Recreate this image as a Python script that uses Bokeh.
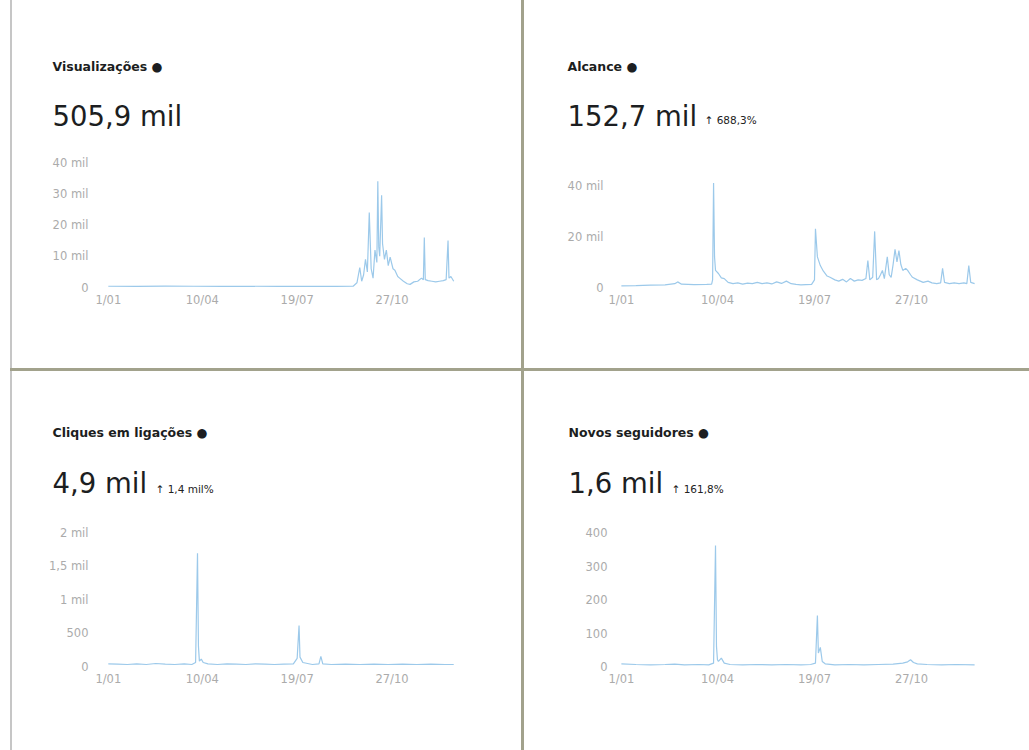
from bokeh.plotting import figure
from bokeh.models import Label, FixedTicker, Range1d, Div, Spacer
from bokeh.layouts import row, column
from bokeh.embed import file_html
from bokeh.resources import INLINE

# ---------------- data ----------------
x_tick_days = [0, 99, 199, 299]
x_tick_labels = ["1/01", "10/04", "19/07", "27/10"]

titles = ["Visualizações ●", "Alcance ●", "Cliques em ligações ●", "Novos seguidores ●"]
totals = ["505,9 mil", "152,7 mil", "4,9 mil", "1,6 mil"]
changes = ["", "↑ 688,3%", "↑ 1,4 mil%", "↑ 161,8%"]

views_days = [0, 30, 60, 90, 120, 150, 180, 210, 240, 258, 262, 265, 267, 269, 271, 273, 275, 277,
              279, 281, 283, 284, 285, 286, 288, 289, 291, 293, 295, 297, 300, 302, 305, 307, 311,
              315, 318, 322, 326, 330, 332, 333, 334, 337, 341, 345, 349, 353, 356, 358, 359, 361, 364]
views_vals = [400, 350, 450, 400, 350, 400, 350, 400, 350, 400, 1500, 6400, 2000, 4000, 9000, 5000,
              24000, 6000, 3000, 12000, 8000, 34000, 13000, 10000, 29500, 14000, 9000, 12000, 7000,
              9700, 6000, 5500, 3500, 3000, 2000, 1200, 1000, 1800, 2000, 3000, 2500, 16000, 2500,
              2200, 2000, 1800, 2000, 2200, 2500, 15000, 3000, 3500, 2000]
views_ticks = [0, 10000, 20000, 30000, 40000]
views_tick_labels = ["0", "10 mil", "20 mil", "30 mil", "40 mil"]

reach_days = [0, 15, 30, 45, 55, 58, 62, 75, 88, 93, 94, 95, 96, 97, 100, 103, 106, 110, 115, 120,
              125, 130, 135, 140, 145, 150, 155, 160, 165, 170, 175, 180, 185, 190, 196, 199, 200,
              202, 205, 208, 212, 215, 220, 224, 228, 232, 236, 240, 244, 248, 252, 254, 256, 259,
              261, 263, 265, 267, 269, 271, 274, 276, 278, 280, 282, 284, 286, 288, 290, 293, 295,
              298, 300, 305, 311, 316, 320, 325, 329, 331, 333, 338, 343, 348, 353, 356, 358, 360, 364]
reach_vals = [600, 700, 900, 1000, 1500, 2200, 1300, 1100, 1200, 1300, 3000, 41000, 12000, 6700,
              5500, 3800, 3500, 2000, 1500, 1800, 1300, 1700, 1500, 2000, 1500, 1800, 1400, 2200,
              1600, 2500, 1500, 1200, 1000, 1100, 1200, 3000, 23000, 12000, 8600, 6500, 4500, 4000,
              3000, 2500, 3200, 2200, 3500, 2500, 3000, 2800, 3500, 10600, 3000, 4000, 22000, 3000,
              3500, 5000, 6700, 3500, 12000, 5000, 4000, 9000, 15000, 10000, 14500, 9000, 6700,
              7500, 6700, 5000, 4000, 3000, 2000, 2500, 1800, 1500, 1800, 7500, 2000, 1500, 1800,
              1500, 1800, 1500, 8600, 2000, 1500]
reach_ticks = [0, 20000, 40000]
reach_tick_labels = ["0", "20 mil", "40 mil"]

clicks_days = [0, 10, 20, 30, 40, 50, 60, 70, 80, 88, 92, 94, 95, 96, 98, 100, 105, 115, 125, 135,
               145, 155, 165, 175, 185, 195, 199, 201, 202, 205, 210, 215, 222, 224, 226, 235, 250,
               265, 280, 295, 310, 325, 340, 355, 364]
clicks_vals = [40, 35, 30, 40, 30, 45, 35, 30, 40, 30, 60, 1690, 300, 80, 110, 60, 40, 30, 40, 35,
               30, 40, 35, 30, 35, 40, 120, 610, 140, 60, 45, 30, 40, 150, 40, 30, 35, 30, 35, 30,
               35, 30, 35, 30, 30]
clicks_ticks = [0, 500, 1000, 1500, 2000]
clicks_tick_labels = ["0", "500", "1 mil", "1,5 mil", "2 mil"]

follow_days = [0, 15, 30, 45, 55, 65, 80, 90, 95, 97, 98, 99, 100, 103, 106, 112, 125, 140, 155,
               170, 185, 195, 200, 202, 203, 205, 207, 210, 220, 235, 250, 265, 280, 290, 295, 298,
               301, 305, 315, 330, 345, 364]
follow_vals = [8, 6, 5, 6, 7, 5, 6, 5, 10, 361, 60, 20, 15, 25, 10, 6, 5, 6, 5, 6, 5, 6, 10, 152,
               40, 57, 15, 8, 5, 6, 5, 6, 7, 10, 14, 20, 12, 8, 6, 5, 6, 5]
follow_ticks = [0, 100, 200, 300, 400]
follow_tick_labels = ["0", "100", "200", "300", "400"]

# ---------------- styling / geometry ----------------
LINE = "#9cc9ea"
TICK = "#ababab"
DARK = "#1c1e21"
DIV_COL = "#a2a28c"
EDGE_COL = "#c6c6c6"
FONT = "DejaVu Sans"


def panel(fig_box, chart, days, vals, yticks, ylabels, ystand, texts):
    """fig_box: (left, top, width, height) of the panel on the page.
    chart: (px of day -4, px per day, py of value 0, px per unit) on the page."""
    fl, ft, fw, fh = fig_box
    x0, kx, y0, ky = chart
    xr = Range1d(-4 - (x0 - fl) / kx, -4 + (fl + fw - x0) / kx)
    yr = Range1d(-(ft + fh - y0) / ky, (y0 - ft) / ky)
    p = figure(width=fw, height=fh, output_backend="svg", toolbar_location=None,
               min_border=0, x_range=xr, y_range=yr,
               background_fill_color="white", border_fill_color="white")
    p.outline_line_color = None
    p.grid.grid_line_color = None
    p.line(days, vals, line_color=LINE, line_width=1.2)
    p.xaxis.ticker = FixedTicker(ticks=x_tick_days)
    p.xaxis.major_label_overrides = {d: l for d, l in zip(x_tick_days, x_tick_labels)}
    p.yaxis.ticker = FixedTicker(ticks=yticks)
    p.yaxis.major_label_overrides = {d: l for d, l in zip(yticks, ylabels)}
    p.xaxis.fixed_location = 0
    p.yaxis.fixed_location = -4
    for ax in (p.xaxis, p.yaxis):
        ax.axis_line_color = None
        ax.major_tick_line_color = None
        ax.minor_tick_line_color = None
        ax.major_tick_out = 0
        ax.major_tick_in = 0
        ax.major_label_text_color = TICK
        ax.major_label_text_font = FONT
        ax.major_label_text_font_size = "11.5px"
    p.xaxis.major_label_standoff = 5
    p.yaxis.major_label_standoff = ystand
    for (tx, ty, text, size, style, color) in texts:
        if not text:
            continue
        p.add_layout(Label(x=tx - fl, y=ft + fh - ty, x_units="screen", y_units="screen",
                           text=text, text_font=FONT, text_font_size=size,
                           text_font_style=style, text_color=color, text_baseline="middle"))
    return p


def header(x, title, total, change, ty, by, cx, cy):
    return [(x, ty, title, "12.5px", "bold", DARK),
            (x, by, total, "27.5px", "normal", DARK),
            (cx, cy, change, "10.5px", "normal", "#222222")]


p1 = panel((12, 0, 509, 368), (104, 0.949, 287, 125 / 40000), views_days, views_vals,
           views_ticks, views_tick_labels, 16,
           header(52, titles[0], totals[0], changes[0], 66, 115, 0, 0))
p2 = panel((524, 0, 505, 368), (617, 0.9704, 287, 102 / 40000), reach_days, reach_vals,
           reach_ticks, reach_tick_labels, 14,
           header(567, titles[1], totals[1], changes[1], 66, 115, 704, 119))
p3 = panel((12, 371, 509, 379), (104, 0.949, 666, 134 / 2000), clicks_days, clicks_vals,
           clicks_ticks, clicks_tick_labels, 16,
           header(52, titles[2], totals[2], changes[2], 431.5, 482, 155, 488))
p4 = panel((524, 371, 505, 379), (617, 0.9704, 666, 134 / 400), follow_days, follow_vals,
           follow_ticks, follow_tick_labels, 10,
           header(568, titles[3], totals[3], changes[3], 431.5, 482, 671, 488))


def bar(w, h, col):
    return Div(width=w, height=h, margin=0, styles={"background-color": col})


top = row(Spacer(width=10, height=368, margin=0), bar(2, 368, EDGE_COL), p1, bar(3, 368, DIV_COL), p2)
mid = row(Spacer(width=10, height=3, margin=0), bar(1019, 3, DIV_COL))
bot = row(Spacer(width=10, height=379, margin=0), bar(2, 379, EDGE_COL), p3, bar(3, 379, DIV_COL), p4)
layout = column(top, mid, bot)

open("out.html", "w").write(file_html(layout, INLINE))
